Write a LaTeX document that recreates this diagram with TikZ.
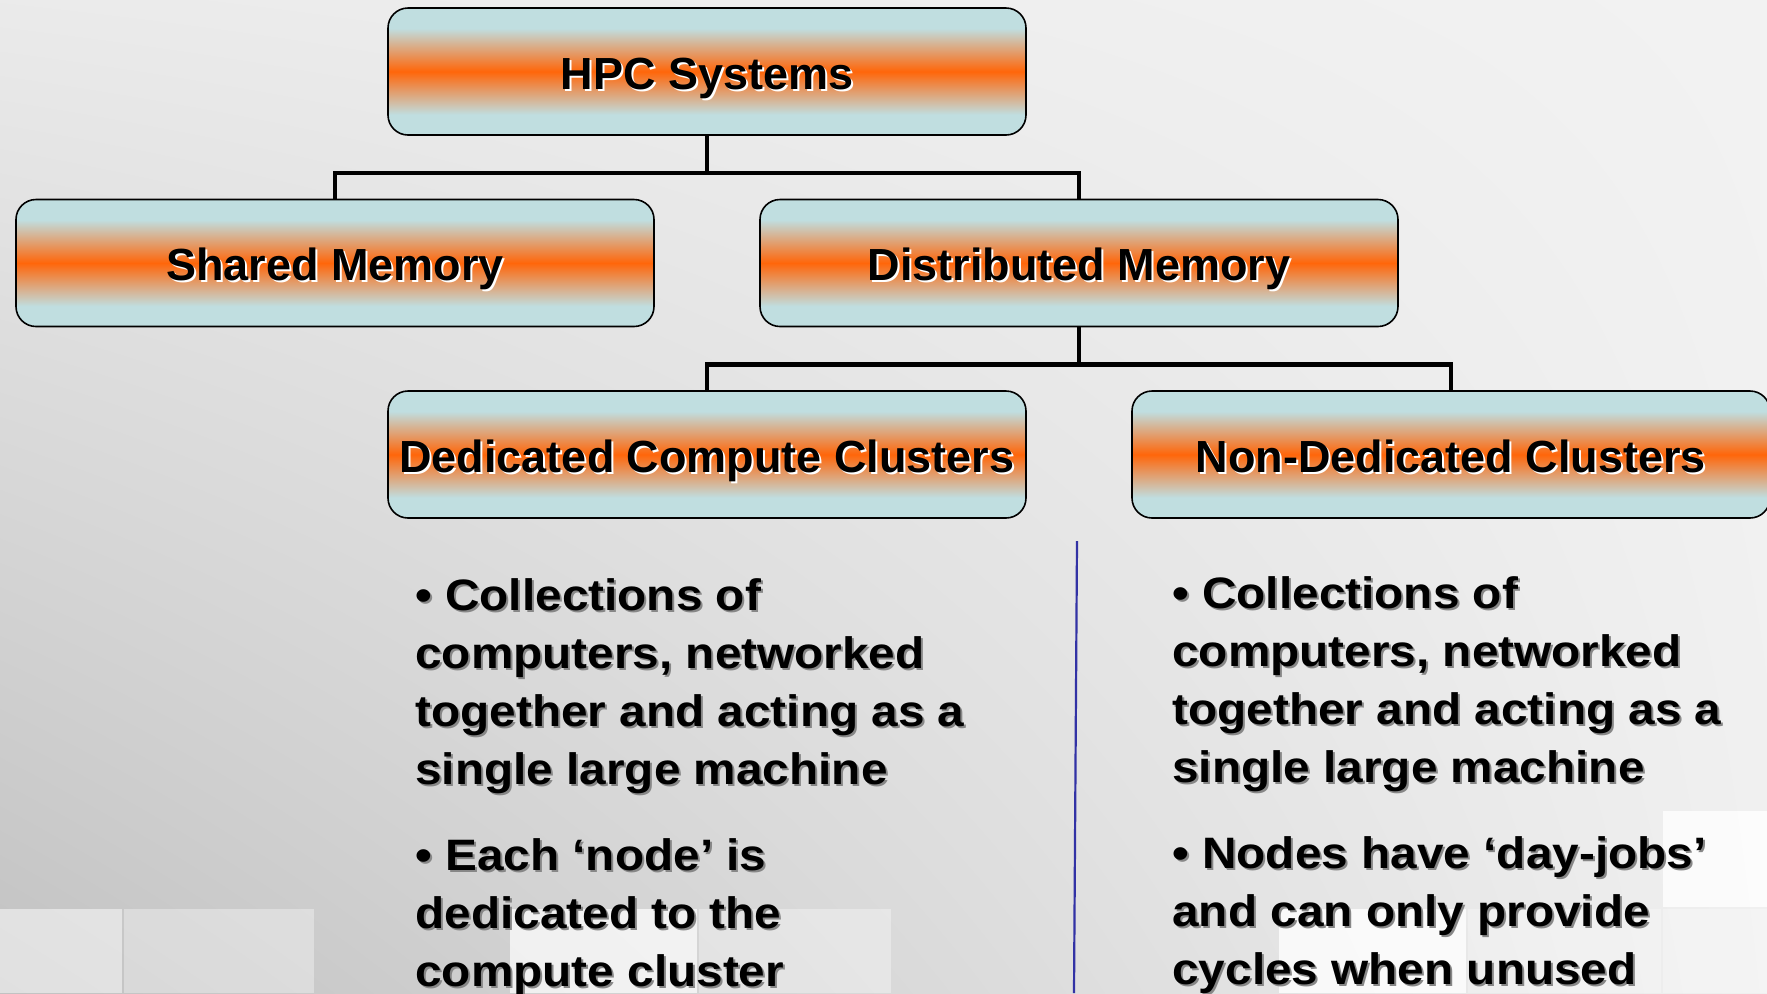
\documentclass[tikz,border=0pt]{standalone}
\usepackage{fontspec}
\setmainfont{Liberation Sans}
\newfontfamily\bulletfont[FakeStretch=1.085]{Liberation Sans}
\usetikzlibrary{shadings}

\definecolor{boxlight}{RGB}{192,222,224}
\definecolor{boxorange}{RGB}{255,102,10}
\definecolor{splitblue}{RGB}{50,50,165}
\definecolor{bulletshadow}{RGB}{135,135,135}

\pgfdeclareverticalshading{boxglow}{100bp}{color(0bp)=(boxlight); color(25bp)=(boxlight); color(33bp)=(boxlight); color(50bp)=(boxorange); color(67bp)=(boxlight); color(75bp)=(boxlight); color(100bp)=(boxlight)}

\newcommand{\shadowed}[2]{\leavevmode\rlap{\kern1pt\raisebox{-1pt}{\color{#1}#2}}#2}

\begin{document}
\begin{tikzpicture}[x=0.5pt, y=-0.5pt, level distance=95.75pt, sibling distance=372pt]
        \tikzstyle{topic}=[rectangle, rounded corners=10pt, draw=black, line width=0.8pt, shade, shading=boxglow, minimum width=319pt, minimum height=63.5pt, inner sep=0pt, text height=17.5pt, text depth=0pt, font=\fontsize{22.5}{27}\selectfont\bfseries]
        \tikzstyle{bullets}=[inner sep=0pt, anchor=base west, font=\bulletfont\bfseries\fontsize{22}{29}\selectfont]
        \tikzstyle{edge from parent}=[draw, line width=2.2pt]
        \tikzstyle{square}=[fill=white, draw=none]

% slide background
        \useasboundingbox (0,0) rectangle (1767,993);
        \shade[upper left=black!8, upper right=black!5, lower left=black!24, lower right=black!6] (0,0) rectangle (1767,993);
        \fill[square, opacity=0.5] (0,909) rectangle (122,993);
        \fill[square, opacity=0.35] (124,909) rectangle (314,993);
        \fill[square, opacity=0.7] (510,909) rectangle (697,993);
        \fill[square, opacity=0.35] (699,909) rectangle (891,993);
        \fill[square, opacity=0.8] (1279,909) rectangle (1466,993);
        \fill[square, opacity=0.3] (1468,909) rectangle (1661,993);
        \fill[square, opacity=0.8] (1663,811) rectangle (1767,907);
        \fill[square, opacity=0.3] (1663,909) rectangle (1767,993);

% the hierarchy of systems
        \node[topic] (hpc) at (707,71.5) {\shadowed{white}{HPC Systems}}
            [edge from parent path={(\tikzparentnode.south) -- ++(0,-18.5pt) -| (\tikzchildnode.north)}]
            child {node[topic] (shared) {\shadowed{white}{Shared Memory}}}
            child {node[topic] (distributed) {\shadowed{white}{Distributed Memory}}
                child {node[topic] (dedicated) {\shadowed{white}{Dedicated Compute Clusters}}}
                child {node[topic] (nondedicated) {\shadowed{white}{Non-Dedicated Clusters}}}
            };

% notes under the two kinds of clusters
        \node[bullets] (dedinfo) at (415,610) {\shadowed{bulletshadow}{\begin{tabular}[t]{@{}l@{}}• Collections of\\ computers, networked\\ together and acting as a\\ single large machine\\[14pt] • Each ‘node’ is\\ dedicated to the\\ compute cluster\end{tabular}}};
        \node[bullets] (nondedinfo) at (1172,608) {\shadowed{bulletshadow}{\begin{tabular}[t]{@{}l@{}}• Collections of\\ computers, networked\\ together and acting as a\\ single large machine\\[14pt] • Nodes have ‘day-jobs’\\ and can only provide\\ cycles when unused\end{tabular}}};

        \coordinate (splittop) at (1077,541);
        \coordinate (splitbot) at (1074,993);
        \draw[splitblue, line width=1.1pt] (splittop) -- (splitbot);

    \end{tikzpicture}
\end{document}
